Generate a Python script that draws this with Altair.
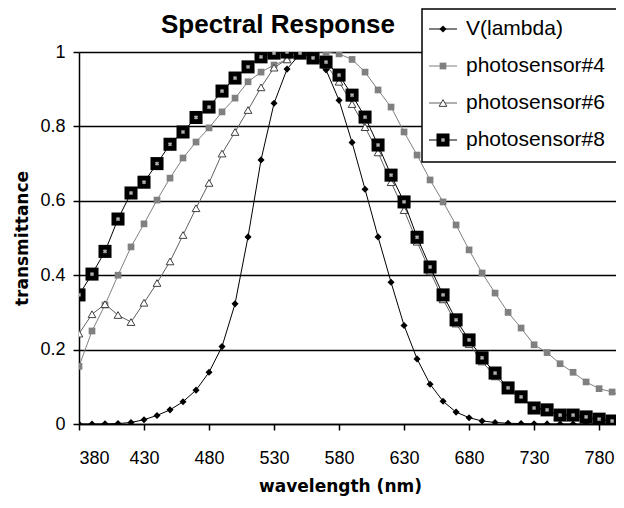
import altair as alt
import pandas as pd

# ---------------- data ----------------
wavelength = [380, 390, 400, 410, 420, 430, 440, 450, 460, 470, 480, 490, 500, 510,
              520, 530, 540, 550, 560, 570, 580, 590, 600, 610, 620, 630, 640, 650,
              660, 670, 680, 690, 700, 710, 720, 730, 740, 750, 760, 770, 780, 790, 800]

v_lambda = [0.00004, 0.00012, 0.0004, 0.0012, 0.004, 0.0116, 0.023, 0.038, 0.06, 0.091,
            0.139, 0.208, 0.323, 0.503, 0.71, 0.862, 0.954, 0.995, 0.995, 0.952,
            0.87, 0.757, 0.631, 0.503, 0.381, 0.265, 0.175, 0.107, 0.061, 0.032,
            0.017, 0.0082, 0.0041, 0.0021, 0.00105, 0.00052, 0.00025, 0.00012,
            0.00006, 0.00003, 0.000015, 0.0000075, 0.0000037]

sensor4 = [0.155, 0.25, 0.32, 0.40, 0.476, 0.538, 0.602, 0.661, 0.715, 0.758,
           0.796, 0.839, 0.876, 0.92, 0.946, 0.965, 0.98, 0.99, 1.0, 1.0,
           0.995, 0.98, 0.946, 0.898, 0.852, 0.785, 0.723, 0.656, 0.597, 0.535,
           0.468, 0.406, 0.352, 0.30, 0.258, 0.213, 0.192, 0.162, 0.139, 0.113,
           0.095, 0.086, 0.072]

sensor6 = [0.243, 0.295, 0.322, 0.293, 0.274, 0.326, 0.379, 0.437, 0.508, 0.58,
           0.648, 0.727, 0.785, 0.844, 0.905, 0.958, 0.98, 0.995, 0.995, 0.965,
           0.92, 0.86, 0.798, 0.73, 0.65, 0.575, 0.49, 0.41, 0.335, 0.27,
           0.215, 0.168, 0.128, 0.093, 0.068, 0.045, 0.034, 0.024, 0.02, 0.015,
           0.011, 0.008, 0.006]

sensor8 = [0.347, 0.403, 0.464, 0.551, 0.621, 0.65, 0.70, 0.752, 0.785, 0.824,
           0.852, 0.895, 0.93, 0.96, 0.987, 0.997, 1.0, 0.997, 0.984, 0.973,
           0.938, 0.884, 0.825, 0.75, 0.669, 0.597, 0.502, 0.422, 0.347, 0.28,
           0.226, 0.178, 0.137, 0.097, 0.073, 0.043, 0.038, 0.024, 0.024, 0.019,
           0.013, 0.008, 0.008]

series_names = ["V(lambda)", "photosensor#4", "photosensor#6", "photosensor#8"]
x_ticks = [380, 430, 480, 530, 580, 630, 680, 730, 780]
y_ticks = [0, 0.2, 0.4, 0.6, 0.8, 1]

TICK_FONT = "Liberation Sans, Arial, sans-serif"
TITLE_FONT = "DejaVu Sans, Verdana, sans-serif"

W, H = 537, 372

xscale = alt.Scale(domain=[380, 793], nice=False, zero=False)
yscale = alt.Scale(domain=[0, 1], nice=False)

def df_of(vals):
    return pd.DataFrame({"wl": wavelength, "t": vals})

X_AX = alt.X("wl:Q", scale=xscale,
             axis=alt.Axis(values=x_ticks, format="d", grid=False,
                           title="wavelength (nm)",
                           titleFont=TITLE_FONT, titleFontSize=17, titleFontWeight="bold",
                           titleX=261, titleY=62, titleBaseline="middle",
                           labelFont=TICK_FONT, labelFontSize=18, labelColor="#000",
                           labelPadding=19, tickSize=6, tickColor="#000", tickWidth=1.5,
                           domainColor="#000", domainWidth=1.5))
Y_AX = alt.Y("t:Q", scale=yscale,
             axis=alt.Axis(values=y_ticks, format="~g", grid=True,
                           gridColor="#000", gridWidth=1.6, gridOpacity=1,
                           title="transmittance",
                           titleFont=TITLE_FONT, titleFontSize=17, titleFontWeight="bold",
                           titleX=-57, titleY=186, titleAngle=-90,
                           titleAlign="center", titleBaseline="middle",
                           labelFont=TICK_FONT, labelFontSize=18, labelColor="#000",
                           labelPadding=8, tickSize=6, tickColor="#000", tickWidth=1.5,
                           domainColor="#000", domainWidth=1.5))

def line(vals, color):
    return alt.Chart(df_of(vals)).mark_line(color=color, strokeWidth=1, clip=True).encode(
        x=X_AX, y=Y_AX)

def pts(vals, **kw):
    return alt.Chart(df_of(vals)).mark_point(clip=True, opacity=1, **kw).encode(
        x=alt.X("wl:Q", scale=xscale), y=alt.Y("t:Q", scale=yscale))

layers = [
    line(v_lambda, "#000"),
    pts(v_lambda, shape="diamond", filled=True, color="#000", size=50),
    line(sensor4, "#808080"),
    pts(sensor4, shape="square", filled=True, color="#808080", size=45),
    line(sensor6, "#606060"),
    pts(sensor6, shape="triangle-up", filled=True, fill="#fff", stroke="#404040",
        strokeWidth=1, size=60),
    line(sensor8, "#000"),
    pts(sensor8, shape="square", filled=True, color="#000", size=170),
    pts(sensor8, shape="cross", filled=True, color="#b0b0b0", size=18, angle=45),
]

# title
one = pd.DataFrame({"k": [0]})
layers.append(alt.Chart(one).mark_text(
    text="Spectral Response", font="Liberation Sans, Arial, sans-serif", fontSize=26,
    fontWeight="bold", align="center", baseline="alphabetic", color="#000").encode(
    x=alt.value(199), y=alt.value(-19)))

# legend box
layers.append(alt.Chart(one).mark_rect(fill="#fff", stroke="#000", strokeWidth=1.5).encode(
    x=alt.value(343), x2=alt.value(600), y=alt.value(-43), y2=alt.value(110)))

leg_rows = [-23, 14, 51, 88]
for name, ry in zip(series_names, leg_rows):
    d = pd.DataFrame({"s": [name]})
    if name == "V(lambda)":
        lc, sym = "#000", dict(shape="diamond", filled=True, color="#000", size=50)
    elif name == "photosensor#4":
        lc, sym = "#808080", dict(shape="square", filled=True, color="#808080", size=45)
    elif name == "photosensor#6":
        lc, sym = "#606060", dict(shape="triangle-up", filled=True, fill="#fff",
                                  stroke="#404040", strokeWidth=1, size=60)
    else:
        lc, sym = "#000", dict(shape="square", filled=True, color="#000", size=170)
    layers.append(alt.Chart(d).mark_rule(color=lc, strokeWidth=1).encode(
        x=alt.value(350), x2=alt.value(378), y=alt.value(ry)))
    layers.append(alt.Chart(d).mark_point(opacity=1, **sym).encode(
        x=alt.value(364), y=alt.value(ry)))
    if name == "photosensor#8":
        layers.append(alt.Chart(d).mark_point(opacity=1, shape="cross", filled=True,
                                              color="#b0b0b0", size=18, angle=45).encode(
            x=alt.value(364), y=alt.value(ry)))
    layers.append(alt.Chart(d).mark_text(font=TICK_FONT, fontSize=21, align="left",
                                         baseline="middle", color="#000").encode(
        x=alt.value(387), y=alt.value(ry), text="s:N"))

chart = alt.layer(*layers).properties(
    width=W, height=H,
    autosize=alt.AutoSizeParams(type="none"),
    padding={"left": 71, "top": 44, "right": 0, "bottom": 74},
).configure_view(stroke=None).configure(background="#fff")

chart.save("out.html", embed_options={"renderer": "svg", "actions": False})
